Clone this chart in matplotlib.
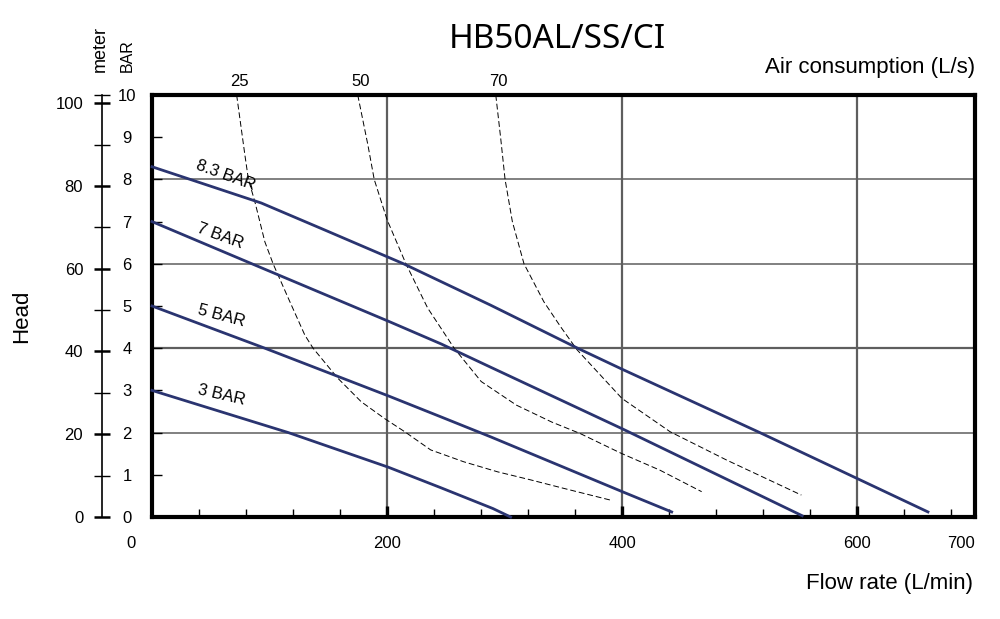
import matplotlib

matplotlib.use("Agg")
import matplotlib.pyplot as plt

NAVY = "#2a3470"
GRID = "#5e5e5e"
FONT = "Liberation Sans"

plt.rcParams["font.family"] = [FONT, "DejaVu Sans"]

# pressure curves: flow (L/min) vs head (bar)
bar83_flow = [0, 93, 147, 214, 288, 362, 400, 517, 568, 660]
bar83_head = [8.3, 7.44, 6.8, 6.0, 5.02, 4.0, 3.5, 2.0, 1.33, 0.12]
bar7_flow = [0, 85, 201, 246, 288, 400, 553]
bar7_head = [7.0, 6.0, 4.64, 4.1, 3.55, 2.09, 0.03]
bar5_flow = [0, 96, 201, 246, 288, 400, 442]
bar5_head = [5.0, 4.0, 2.87, 2.37, 1.9, 0.6, 0.12]
bar3_flow = [0, 116, 201, 246, 290, 305]
bar3_head = [3.0, 2.0, 1.18, 0.69, 0.2, 0.0]
pressure_labels = ["8.3 BAR", "7 BAR", "5 BAR", "3 BAR"]

# air consumption curves (L/s)
air25_flow = [72, 79, 82, 87.5, 96, 103, 116, 130, 137, 158, 178, 198, 215, 237, 265, 294, 322, 350, 390]
air25_head = [10, 8.58, 8.0, 7.47, 6.52, 6.0, 5.18, 4.31, 4.0, 3.29, 2.73, 2.33, 2.02, 1.59, 1.31, 1.07, 0.88, 0.68, 0.40]
air50_flow = [175, 183.6, 189, 200, 216, 229, 234.5, 257, 280, 310, 340, 364, 399, 432, 467.5]
air50_head = [10, 8.82, 8.0, 7.04, 6.0, 5.26, 4.95, 4.0, 3.21, 2.65, 2.25, 1.98, 1.51, 1.11, 0.60]
air70_flow = [292.4, 296.6, 300.3, 306.5, 316.4, 333.3, 347.5, 361.6, 399.7, 440.7, 488.7, 552.3]
air70_head = [10, 8.97, 8.0, 7.0, 6.0, 5.1, 4.51, 3.96, 2.81, 2.02, 1.35, 0.52]
air_labels = ["25", "50", "70"]

flow_ticks = [0, 200, 400, 600, 700]
flow_ticklabels = ["0", "200", "400", "600", "700"]
bar_ticks = list(range(0, 11))
meter_major = [0, 20, 40, 60, 80, 100]
meter_minor = [10, 30, 50, 70, 90]
M_PER_BAR = 10.197

fig = plt.figure(figsize=(10, 6.19), dpi=100)
ax = fig.add_axes([0.152, 1 - 517 / 619, 0.823, 422 / 619])
ax.set_xlim(0, 700)
ax.set_ylim(0, 10)

for side in ["left", "right", "top", "bottom"]:
    ax.spines[side].set_linewidth(3.0)
    ax.spines[side].set_color("black")

# grid
for x in [200, 400, 600]:
    ax.axvline(x, color=GRID, linewidth=1.6, zorder=1)
for y, lw in [(2, 1.1), (4, 1.6), (6, 1.1), (8, 1.1)]:
    ax.axhline(y, color=GRID, linewidth=lw, zorder=1)

# ticks
ax.set_xticks([200, 400, 600])
ax.set_xticks(range(40, 700, 40), minor=True)
ax.tick_params(axis="x", which="major", direction="in", length=8, width=2.4, labelbottom=False)
ax.tick_params(axis="x", which="minor", direction="in", length=6, width=1.0)
ax.set_yticks(bar_ticks)
ax.tick_params(axis="y", which="major", direction="in", length=7, width=1.0,
               labelsize=12, pad=18)
for lab in ax.get_yticklabels():
    lab.set_horizontalalignment("center")

for x, lab in zip(flow_ticks, flow_ticklabels):
    dx = {"0": -21, "700": -14}.get(lab, 0)
    ax.annotate(lab, (x, 0), xycoords=("data", "axes fraction"),
                xytext=(dx, -26), textcoords="offset pixels",
                ha="center", va="center", fontsize=12)

# meter axis
sec = ax.secondary_yaxis(-0.0608, functions=(lambda b: b * M_PER_BAR, lambda m: m / M_PER_BAR))
sec.spines["left"].set_linewidth(1.2)
sec.set_yticks(meter_major)
sec.set_yticks(meter_minor + [10 * M_PER_BAR], minor=True)
sec.tick_params(which="major", direction="inout", length=11, width=1.8, labelsize=12, pad=8)
sec.tick_params(which="minor", direction="inout", length=11, width=1.0)

# curves
pressure = [(bar83_flow, bar83_head), (bar7_flow, bar7_head),
            (bar5_flow, bar5_head), (bar3_flow, bar3_head)]
for fl, hd in pressure:
    ax.plot(fl, hd, color=NAVY, linewidth=2.0, zorder=4, clip_on=False)

air = [(air25_flow, air25_head), (air50_flow, air50_head), (air70_flow, air70_head)]
for (fl, hd), lab in zip(air, air_labels):
    ax.plot(fl, hd, color="black", linewidth=0.7, linestyle=(0, (6, 3)), zorder=3)
    ax.annotate(lab, (fl[0], 10), xytext=(3, 14), textcoords="offset pixels",
                ha="center", va="center", fontsize=12)

label_pos = [(63, 8.1, -20), (58, 6.66, -20), (59, 4.76, -15), (59, 2.89, -13)]
for (x, y, rot), lab in zip(label_pos, pressure_labels):
    ax.text(x, y, lab, rotation=rot, ha="center", va="center", fontsize=12,
            rotation_mode="anchor", zorder=5)

fig.text(0.557, 1 - 40 / 619, "HB50AL/SS/CI", ha="center", va="center",
         fontsize=24, family=["Noto Sans", "DejaVu Sans"])
fig.text(0.975, 1 - 68 / 619, "Air consumption (L/s)", ha="right", va="center", fontsize=16)
fig.text(0.973, 1 - 583 / 619, "Flow rate (L/min)", ha="right", va="center", fontsize=16)
fig.text(0.022, 1 - 316 / 619, "Head", rotation=90, ha="center", va="center", fontsize=16)
fig.text(0.100, 1 - 72 / 619, "meter", rotation=90, ha="center", va="bottom", fontsize=13)
fig.text(0.127, 1 - 72 / 619, "BAR", rotation=90, ha="center", va="bottom", fontsize=11.5)

fig.savefig("out.png", dpi=100, facecolor="white")
